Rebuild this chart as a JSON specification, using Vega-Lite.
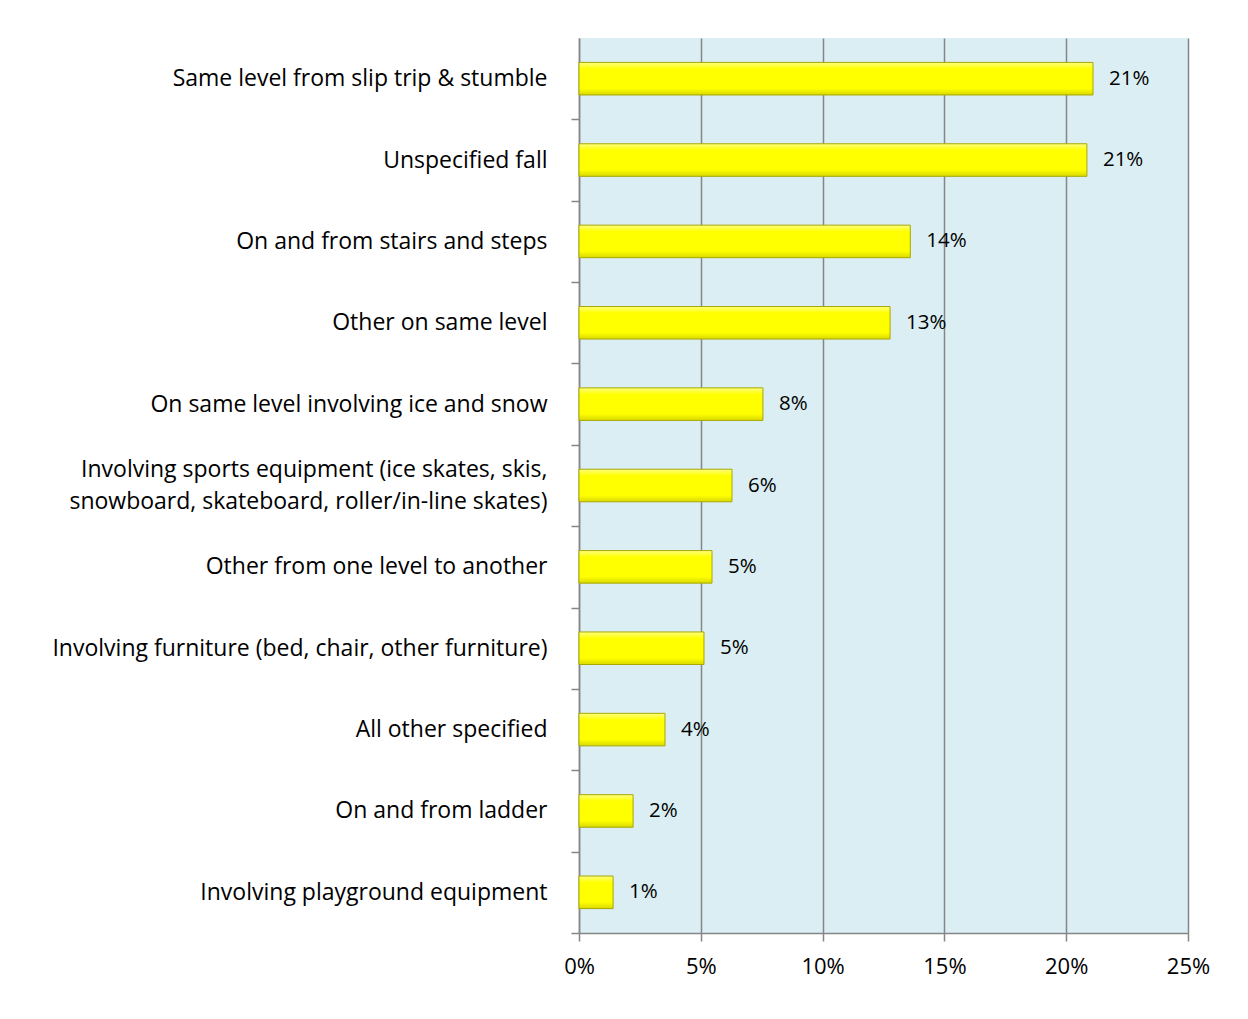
{
  "$schema": "https://vega.github.io/schema/vega-lite/v6.json",
  "autosize": {"type": "none"},
  "padding": {"left": 579, "top": 38, "right": 60, "bottom": 86},
  "width": 609,
  "height": 895,
  "background": "white",
  "data": {
    "values": [
      {"cause": "Same level from slip trip & stumble", "share": 0.211},
      {"cause": "Unspecified fall", "share": 0.2085},
      {"cause": "On and from stairs and steps", "share": 0.136},
      {"cause": "Other on same level", "share": 0.1277},
      {"cause": "On same level involving ice and snow", "share": 0.0755},
      {"cause": "Involving sports equipment (ice skates, skis,\u00a0|snowboard, skateboard, roller/in-line skates)", "share": 0.0628},
      {"cause": "Other from one level to another", "share": 0.0546},
      {"cause": "Involving furniture (bed, chair, other furniture)", "share": 0.0513},
      {"cause": "All other specified", "share": 0.0353},
      {"cause": "On and from ladder", "share": 0.0222},
      {"cause": "Involving playground equipment", "share": 0.014}
    ]
  },
  "encoding": {
    "y": {
      "field": "cause",
      "type": "nominal",
      "sort": null,
      "title": null,
      "scale": {"paddingInner": 0.6, "paddingOuter": 0.3},
      "axis": {
        "labelExpr": "split(datum.label, '|')",
        "labelFont": "Open Sans",
        "labelFontSize": 23,
        "labelColor": "#000000",
        "labelPadding": 24,
        "labelLimit": 700,
        "labelLineHeight": 32,
        "tickOffset": 40.68,
        "labelOffset": {"condition": {"test": "indexof(datum.value, '|') >= 0", "value": -56.68}, "value": -40.68},
        "tickSize": 8,
        "tickColor": "#868686",
        "tickWidth": 1.5,
        "domainColor": "#868686",
        "domainWidth": 1.5,
        "grid": false
      }
    },
    "x": {
      "field": "share",
      "type": "quantitative",
      "title": null,
      "scale": {"domain": [0, 0.25], "nice": false},
      "axis": {
        "values": [0, 0.05, 0.1, 0.15, 0.2, 0.25],
        "format": ".0%",
        "labelFont": "Open Sans",
        "labelFontSize": 22,
        "labelColor": "#000000",
        "labelPadding": 15,
        "labelFlush": false,
        "tickSize": 8,
        "tickColor": "#868686",
        "tickWidth": 1.5,
        "domainColor": "#868686",
        "domainWidth": 1.5,
        "grid": true,
        "gridColor": "#868686",
        "gridWidth": 1.5,
        "gridOpacity": 1
      }
    }
  },
  "layer": [
    {
      "mark": {
        "type": "bar",
        "stroke": "#a8a800",
        "strokeWidth": 1,
        "color": {
          "x1": 0, "y1": 0, "x2": 0, "y2": 1,
          "gradient": "linear",
          "stops": [
            {"offset": 0, "color": "#ffff80"},
            {"offset": 0.2, "color": "#ffff00"},
            {"offset": 0.8, "color": "#ffff00"},
            {"offset": 1, "color": "#d9d900"}
          ]
        }
      }
    },
    {
      "mark": {"type": "text", "align": "left", "baseline": "middle", "dx": 16, "font": "Open Sans", "fontSize": 20.5, "color": "#000000"},
      "encoding": {
        "text": {"field": "share", "type": "quantitative", "format": ".0%"}
      }
    }
  ],
  "config": {
    "view": {"fill": "#daeef3", "stroke": null}
  }
}
